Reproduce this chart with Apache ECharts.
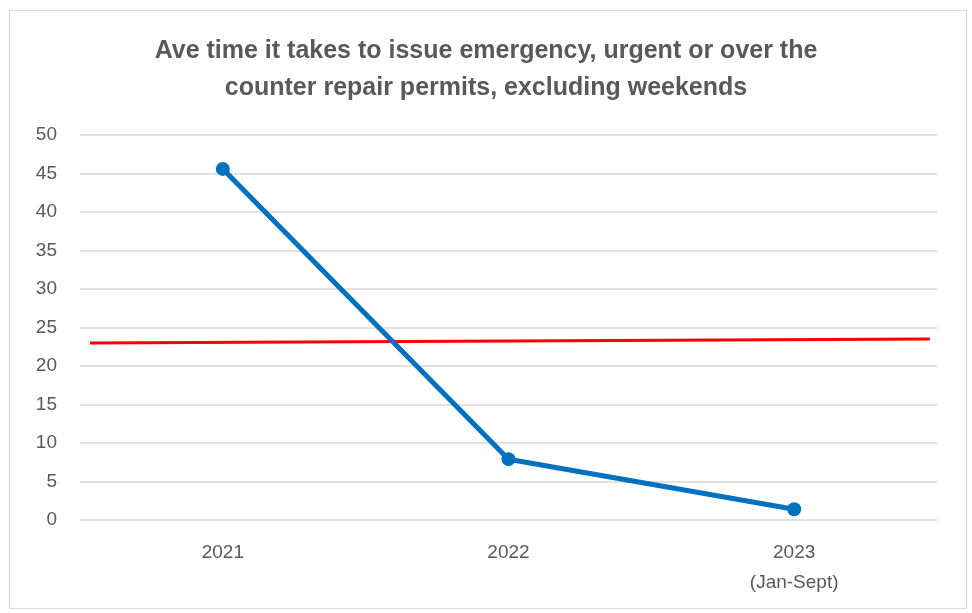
<!DOCTYPE html>
<html>
<head>
<meta charset="utf-8">
<script src="https://cdn.jsdelivr.net/npm/echarts@6/dist/echarts.min.js"></script>
<style>
  html, body { margin: 0; padding: 0; background: #fff; }
  #chart_con { width: 972px; height: 613px; }
  #frame { position: absolute; left: 9px; top: 10px; width: 956px; height: 597px; border: 1px solid #d9d9d9; pointer-events: none; }
</style>
</head>
<body>
<div id="chart_con"></div>
<div id="frame"></div>
<script>
const categories = ["2021", "2022", "2023\n(Jan-Sept)"];
const aveDays = [45.6, 7.9, 1.4];
// red reference line, [position along x, value]
const redLine = [[0.035, 23.0], [2.975, 23.5]];
const yTicks = { min: 0, max: 50, interval: 5 };

const labelFont = "'Liberation Sans', Arial, sans-serif";

const option = {
  animation: false,
  title: {
    text: "Ave time it takes to issue emergency, urgent or over the\ncounter repair permits, excluding weekends",
    left: "center",
    top: 28,
    textStyle: {
      fontFamily: labelFont,
      fontSize: 25,
      fontWeight: "bold",
      color: "#595959",
      lineHeight: 37
    }
  },
  grid: {
    left: 80,
    right: 35,
    top: 135,
    bottom: 93
  },
  xAxis: [
    {
      type: "category",
      data: categories,
      boundaryGap: true,
      axisLine: { show: false },
      axisTick: { show: false },
      axisLabel: {
        color: "#595959",
        fontFamily: labelFont,
        fontSize: 19,
        margin: 18,
        lineHeight: 30
      }
    },
    {
      type: "value",
      min: 0,
      max: 3,
      show: false
    }
  ],
  yAxis: {
    type: "value",
    min: yTicks.min,
    max: yTicks.max,
    interval: yTicks.interval,
    axisLine: { show: false },
    axisTick: { show: false },
    axisLabel: {
      color: "#595959",
      fontFamily: labelFont,
      fontSize: 19,
      margin: 23
    },
    splitLine: { lineStyle: { color: "#d9d9d9", width: 1.5 } }
  },
  series: [
    {
      name: "reference",
      type: "line",
      xAxisIndex: 1,
      data: redLine,
      symbol: "none",
      lineStyle: { color: "#ff0000", width: 3 },
      z: 2
    },
    {
      name: "days",
      type: "line",
      xAxisIndex: 0,
      data: aveDays,
      symbol: "circle",
      symbolSize: 14,
      itemStyle: { color: "#0070c0" },
      lineStyle: { color: "#0070c0", width: 5 },
      z: 3
    }
  ]
};

const chart = echarts.init(document.getElementById("chart_con"));
chart.setOption(option);
</script>
</body>
</html>
